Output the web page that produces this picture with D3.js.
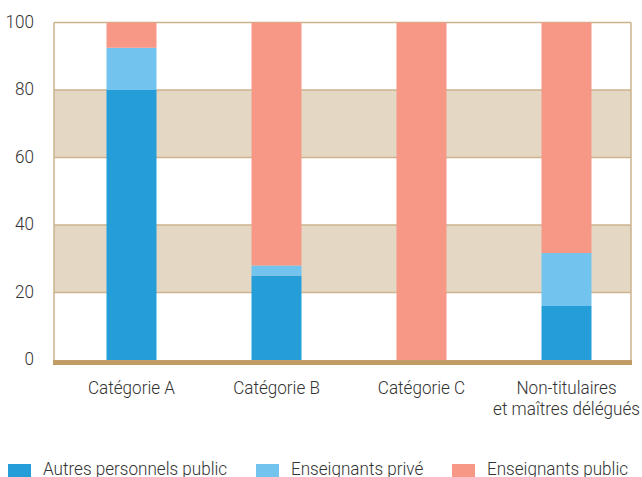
<!DOCTYPE html>
<html lang="fr">
<head>
  <meta charset="UTF-8">
  <title>Répartition par catégorie</title>
  <script src="https://d3js.org/d3.v7.min.js"></script>
  <style>
    body { margin: 0; background: #fff; }
    text { font-family: Roboto, "Liberation Sans", sans-serif; font-weight: 300; fill: #333; }
  </style>
</head>
<body>
  <svg id="chart" width="642" height="477"></svg>

  <script>
    // categories and series (percent)
    const categories = ["Catégorie A", "Catégorie B", "Catégorie C", "Non-titulaires\net maîtres délégués"];
    const autresPublic = [80, 25, 0, 16];
    const enseignantsPrive = [12.5, 3, 0, 15.7];
    const enseignantsPublic = [7.5, 72, 100, 68.3];
    const seriesNames = ["Autres personnels public", "Enseignants privé", "Enseignants public"];
    const colors = ["#259dd8", "#72c3ee", "#f79887"];
    const yTicks = [0, 20, 40, 60, 80, 100];
    const bands = [[20, 40], [60, 80]];

    const svg = d3.select("#chart");
    const plotL = 54, plotR = 631, plotT = 22.5, plotB = 360;
    const squeeze = 0.9; // condensed look

    const x = d3.scaleBand().domain(categories).range([59, 639]);
    const y = d3.scaleLinear().domain([0, 100]).range([plotB, plotT]);
    const barW = 50;

    // shaded bands
    svg.selectAll(".band")
      .data(bands)
      .join("rect")
      .attr("x", plotL)
      .attr("width", plotR - plotL)
      .attr("y", d => y(d[1]))
      .attr("height", d => y(d[0]) - y(d[1]))
      .attr("fill", "#e4d8c4");

    // grid lines
    svg.selectAll(".grid")
      .data(yTicks.filter(d => d > 0))
      .join("line")
      .attr("x1", plotL).attr("x2", plotR)
      .attr("y1", d => y(d)).attr("y2", d => y(d))
      .attr("stroke", "#cdb28c")
      .attr("stroke-width", 1.5);

    // side borders
    svg.selectAll(".side")
      .data([plotL, plotR])
      .join("line")
      .attr("x1", d => d).attr("x2", d => d)
      .attr("y1", plotT).attr("y2", plotB)
      .attr("stroke", "#cdb28c")
      .attr("stroke-width", 1.5);

    // stacked bars
    const rows = categories.map((c, i) => ({
      cat: c,
      "Autres personnels public": autresPublic[i],
      "Enseignants privé": enseignantsPrive[i],
      "Enseignants public": enseignantsPublic[i]
    }));
    const stack = d3.stack().keys(seriesNames)(rows);

    svg.selectAll(".layer")
      .data(stack)
      .join("g")
      .attr("fill", (d, i) => colors[i])
      .selectAll("rect")
      .data(d => d)
      .join("rect")
      .attr("x", d => x(d.data.cat) + x.bandwidth() / 2 - barW / 2)
      .attr("width", barW)
      .attr("y", d => y(d[1]))
      .attr("height", d => y(d[0]) - y(d[1]));

    // baseline
    svg.append("rect")
      .attr("x", plotL - 1)
      .attr("y", plotB)
      .attr("width", plotR - plotL + 2)
      .attr("height", 5)
      .attr("fill", "#c19c66");

    // y tick labels
    svg.selectAll(".ytick")
      .data(yTicks)
      .join("text")
      .attr("transform", d => `translate(34,${y(d) + 5}) scale(${squeeze},1)`)
      .attr("text-anchor", "end")
      .attr("font-size", 19)
      .text(d => d);

    // category labels, one text per line
    const catLines = categories.flatMap(c =>
      c.split("\n").map((line, i) => ({ cat: c, line, i })));
    svg.selectAll(".xlab")
      .data(catLines)
      .join("text")
      .attr("transform", d =>
        `translate(${x(d.cat) + x.bandwidth() / 2},${394 + d.i * 21}) scale(${squeeze},1)`)
      .attr("text-anchor", "middle")
      .attr("font-size", 19)
      .text(d => d.line);

    // legend
    const legX = [8, 256, 452];
    const leg = svg.selectAll(".leg")
      .data(seriesNames)
      .join("g")
      .attr("transform", (d, i) => `translate(${legX[i]},0)`);
    leg.append("rect")
      .attr("y", 464).attr("width", 23).attr("height", 13)
      .attr("fill", (d, i) => colors[i]);
    leg.append("text")
      .attr("transform", `translate(35,475) scale(${squeeze},1)`)
      .attr("font-size", 19)
      .text(d => d);
  </script>
</body>
</html>
